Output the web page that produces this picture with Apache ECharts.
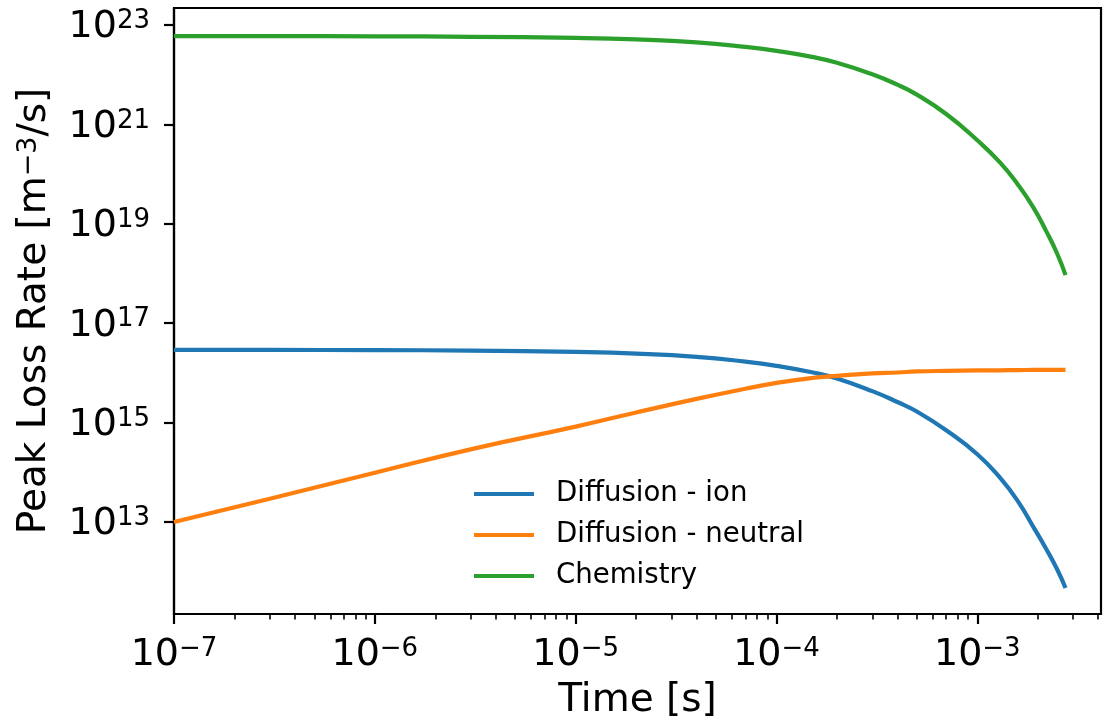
<!DOCTYPE html>
<html>
<head>
<meta charset="utf-8">
<script src="https://cdn.jsdelivr.net/npm/echarts@6/dist/echarts.min.js"></script>
<style>
html,body{margin:0;padding:0;background:#fff;}
#chart{width:1103px;height:726px;}
</style>
</head>
<body>
<div id="chart"></div>
<script>
// ---- data ----
const timeValues = [1e-7, 3e-7, 1e-6, 3e-6, 1e-5, 2e-5, 4e-5, 7e-5, 1e-4, 1.5e-4, 2e-4, 3e-4, 4e-4, 5e-4, 7e-4, 1e-3, 1.3e-3, 1.6e-3, 1.9e-3, 2.2e-3, 2.5e-3, 2.75e-3];
const diffusionIon = [2.91e16, 2.90e16, 2.88e16, 2.81e16, 2.64e16, 2.45e16, 2.11e16, 1.69e16, 1.39e16, 1.03e16, 7.7e15, 4.3e15, 2.6e15, 1.67e15, 7.0e14, 2.31e14, 7.7e13, 2.54e13, 8.0e12, 2.9e12, 1.11e12, 4.7e11];
const diffusionNeutral = [1.0e13, 2.95e13, 9.8e13, 2.9e14, 8.3e14, 1.6e15, 3.0e15, 4.8e15, 6.3e15, 7.9e15, 8.7e15, 9.8e15, 1.02e16, 1.07e16, 1.1e16, 1.12e16, 1.13e16, 1.14e16, 1.15e16, 1.15e16, 1.15e16, 1.15e16];
const chemistry = [6.0e22, 5.98e22, 5.93e22, 5.79e22, 5.5e22, 5.13e22, 4.47e22, 3.63e22, 3.02e22, 2.29e22, 1.74e22, 1.02e22, 6.3e21, 3.98e21, 1.62e21, 4.8e20, 1.7e20, 6.0e19, 2.14e19, 7.2e18, 2.5e18, 9.3e17];
const seriesNames = ['Diffusion - ion', 'Diffusion - neutral', 'Chemistry'];
const xMajorTicks = [1e-7, 1e-6, 1e-5, 1e-4, 1e-3];
const xMinorTicks = [2e-7,3e-7,4e-7,5e-7,6e-7,7e-7,8e-7,9e-7,
                     2e-6,3e-6,4e-6,5e-6,6e-6,7e-6,8e-6,9e-6,
                     2e-5,3e-5,4e-5,5e-5,6e-5,7e-5,8e-5,9e-5,
                     2e-4,3e-4,4e-4,5e-4,6e-4,7e-4,8e-4,9e-4,
                     2e-3,3e-3,4e-3];
const yMajorTicks = [1e13, 1e15, 1e17, 1e19, 1e21, 1e23];
const xMin = 1e-7, xMax = 4.13e-3;
const yMin = 1.41e11, yMax = 2.2e23;

const FONT = 'DejaVu Sans';
const colors = ['#1f77b4', '#ff7f0e', '#2ca02c'];

function pow10Label(v) {
  const e = Math.round(Math.log10(v));
  const s = (e < 0 ? '\u2212' : '') + Math.abs(e);
  return '{b|10}{s|' + s + '}';
}
const tickRich = {
  b: { fontSize: 38, fontFamily: FONT, color: '#000', lineHeight: 38 },
  s: { fontSize: 26, fontFamily: FONT, color: '#000', verticalAlign: 'top', lineHeight: 18 }
};

const gridRect = { left: 174, top: 8, width: 927, height: 606 };

function pairs(ys) { return timeValues.map((t, i) => [t, ys[i]]); }

const chart = echarts.init(document.getElementById('chart'), null, { renderer: 'canvas' });
chart.setOption({
  animation: false,
  backgroundColor: '#fff',
  grid: [
    Object.assign({ show: true, borderColor: '#000', borderWidth: 2.2, backgroundColor: 'transparent' }, gridRect),
    Object.assign({ show: false }, gridRect)
  ],
  xAxis: [{
    type: 'log', logBase: 10, min: xMin, max: xMax, gridIndex: 0,
    name: 'Time [s]', nameLocation: 'middle', nameGap: 67,
    nameTextStyle: { fontSize: 39, fontFamily: FONT, color: '#000' },
    axisLine: { show: true, lineStyle: { color: '#000', width: 2.2 } },
    axisTick: { show: true, customValues: xMajorTicks, length: 10, lineStyle: { color: '#000', width: 2.2 } },
    axisLabel: { customValues: xMajorTicks, margin: 17, padding: [5, 0, 0, 0], formatter: pow10Label, rich: tickRich, fontSize: 38, fontFamily: FONT, color: '#000' },
    splitLine: { show: false }, minorTick: { show: false }
  }, {
    type: 'log', logBase: 10, min: xMin, max: xMax, gridIndex: 1,
    axisLine: { show: false },
    axisTick: { show: true, customValues: xMinorTicks, length: 5.5, lineStyle: { color: '#000', width: 1.6 } },
    axisLabel: { show: false },
    splitLine: { show: false }
  }],
  yAxis: [{
    type: 'log', logBase: 10, min: yMin, max: yMax, gridIndex: 0,
    name: 'Peak Loss Rate [m{s|\u22123}/s]', nameLocation: 'middle', nameGap: 120, nameRotate: 90,
    nameTextStyle: { fontSize: 39, fontFamily: FONT, color: '#000',
      rich: { s: { fontSize: 27, fontFamily: FONT, color: '#000', verticalAlign: 'top', lineHeight: 18 } } },
    axisLine: { show: true, lineStyle: { color: '#000', width: 2.2 } },
    axisTick: { show: true, customValues: yMajorTicks, length: 10, lineStyle: { color: '#000', width: 2.2 } },
    axisLabel: { customValues: yMajorTicks, margin: 24, padding: [5, 0, 0, 0], formatter: pow10Label, rich: tickRich, fontSize: 38, fontFamily: FONT, color: '#000' },
    splitLine: { show: false }, minorTick: { show: false }
  }, {
    type: 'log', logBase: 10, min: yMin, max: yMax, gridIndex: 1, show: false
  }],
  legend: {
    orient: 'vertical', left: 469, top: 474,
    data: seriesNames,
    icon: 'rect', itemWidth: 60, itemHeight: 4, itemGap: 11,
    textStyle: { fontSize: 27.6, fontFamily: FONT, color: '#000', lineHeight: 30, padding: [0, 0, 0, 17] }
  },
  series: [
    { name: seriesNames[0], type: 'line', data: pairs(diffusionIon), showSymbol: false, symbol: 'none', smooth: 0.5, color: colors[0], lineStyle: { width: 4.2, color: colors[0] } },
    { name: seriesNames[1], type: 'line', data: pairs(diffusionNeutral), showSymbol: false, symbol: 'none', smooth: 0.5, color: colors[1], lineStyle: { width: 4.2, color: colors[1] } },
    { name: seriesNames[2], type: 'line', data: pairs(chemistry), showSymbol: false, symbol: 'none', smooth: 0.5, color: colors[2], lineStyle: { width: 4.2, color: colors[2] } }
  ]
});
</script>
</body>
</html>
